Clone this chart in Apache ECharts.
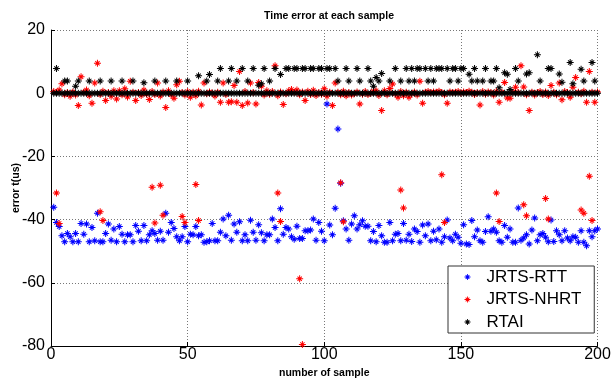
<!DOCTYPE html>
<html><head><meta charset="utf-8">
<script src="https://cdn.jsdelivr.net/npm/echarts@6/dist/echarts.min.js"></script>
<style>html,body{margin:0;padding:0;background:#fff}#c{width:611px;height:385px}</style>
</head><body><div id="c"></div>
<script>
const chartTitle = 'Time error at each sample';
const xName = 'number of sample';
const yName = 'error t(us)';
const seriesNames = ['JRTS-RTT', 'JRTS-NHRT', 'RTAI'];
const xMin = 0, xMax = 200, xStep = 50;
const yMin = -80, yMax = 20, yStep = 20;

// JRTS-RTT: one value per sample 1..200
const rttValues = [
  -36.1,-40.9,-42.2,-45.1,-47.0,-44.4,-45.4,-47.0,-44.4,-47.0,-41.2,-44.6,-41.4,-47.0,-42.5,-46.7,-38.0,-47.0,-47.0,-44.4,
  -41.4,-46.5,-43.0,-47.0,-42.2,-44.6,-47.0,-44.8,-44.8,-47.0,-41.9,-43.7,-46.7,-41.9,-46.7,-44.8,-43.5,-44.4,-46.5,-43.7,
  -46.5,-38.0,-44.0,-40.9,-42.8,-45.4,-46.7,-45.4,-42.2,-47.0,-44.6,-44.8,-42.2,-45.1,-44.8,-47.2,-47.0,-46.7,-41.2,-46.7,
  -46.7,-44.0,-39.8,-45.1,-38.6,-46.5,-41.4,-44.0,-40.7,-46.7,-44.8,-46.7,-40.2,-44.0,-46.5,-41.6,-44.2,-46.7,-44.8,-44.8,
  -39.8,-42.5,-46.7,-36.6,-44.6,-42.5,-43.0,-45.4,-46.2,-42.1,-46.0,-46.0,-43.5,-43.5,-43.3,-39.8,-46.5,-40.9,-43.7,-46.7,
  -3.4,-41.7,-44.8,-36.4,-11.3,-28.5,-40.4,-43.0,-46.5,-41.4,-38.8,-43.0,-41.6,-40.4,-42.1,-42.1,-46.7,-43.8,-47.0,-41.9,
  -45.1,-47.2,-47.2,-40.9,-46.7,-44.6,-44.4,-46.7,-41.2,-46.5,-44.6,-46.9,-43.0,-43.8,-47.2,-41.7,-45.1,-41.4,-46.7,-43.7,
  -46.4,-43.0,-47.2,-45.4,-40.1,-45.8,-46.7,-44.6,-45.6,-47.5,-41.6,-47.7,-47.9,-40.3,-45.4,-43.3,-46.7,-47.2,-43.8,-39.1,
  -43.7,-43.0,-44.0,-46.7,-47.2,-41.9,-45.6,-43.0,-47.2,-47.2,-36.3,-46.5,-45.8,-44.8,-47.7,-43.3,-39.5,-46.7,-44.8,-44.4,
  -45.6,-47.0,-40.1,-46.9,-43.5,-44.8,-46.7,-43.5,-45.8,-46.7,-45.4,-45.6,-47.2,-43.5,-47.2,-48.3,-43.5,-45.4,-43.5,-43.0
];

// JRTS-NHRT: band value per sample 1..200
const nhrtValues = [
  0.5,0.3,1.0,3.0,-0.5,0.2,-1.0,0.4,-0.6,-3.9,5.2,0.3,1.0,-0.8,-3.2,3.2,9.5,-0.4,0.6,-2.3,
  0.2,-1.0,0.8,-1.8,0.8,-0.5,1.4,-1.2,3.8,0.3,-2.3,0.2,-0.7,1.0,-0.3,-2.0,0.5,-0.4,3.2,-0.9,
  0.4,-4.5,0.8,-0.5,-1.6,2.7,3.8,0.2,-0.6,0.5,-1.3,0.3,-0.8,0.6,-3.7,3.2,-0.2,0.4,0.1,-0.9,
  0.3,-2.9,3.2,-0.4,-2.9,-2.7,2.4,-2.9,6.9,-3.9,0.5,-3.1,3.2,0.2,-3.4,3.4,2.2,-0.6,0.8,-0.3,
  0.5,8.7,-0.8,0.4,-3.6,-0.2,0.8,1.2,0.3,1.0,-0.5,0.4,-2.3,0.6,-0.4,0.9,-0.7,0.2,-0.3,1.4,
  -1.0,0.3,-3.9,3.2,0.3,-0.5,0.6,-0.8,0.2,-0.6,-0.2,0.4,-3.4,-0.3,0.5,-0.4,0.0,0.6,0.8,-0.7,
  -5.5,0.8,-0.5,1.5,2.9,-0.2,-1.3,0.5,-0.8,0.3,-1.3,-0.2,0.4,-0.6,3.8,-3.2,0.3,0.5,0.2,0.4,
  0.3,0.6,0.2,-0.5,-3.2,0.4,0.2,0.3,0.5,0.1,0.4,0.2,0.6,0.3,-0.4,0.2,-3.7,0.5,-0.3,0.4,
  0.2,-0.6,0.5,-2.9,0.3,3.4,-1.5,-1.6,0.4,1.9,0.2,8.7,2.0,-0.5,-5.5,0.3,-0.6,0.2,0.5,-0.4,
  0.4,-0.7,2.4,0.3,-0.5,3.2,-2.1,0.5,0.2,-1.3,1.9,5.0,0.3,-0.2,0.6,-2.9,6.9,0.3,-2.9,0.4
];
// JRTS-NHRT: large negative excursions
const nhrtOutSamples = [2,3,18,19,37,38,40,41,48,49,53,54,83,84,91,92,106,107,128,129,143,144,163,164,173,174,181,182,194,195,197,198];
const nhrtOutValues  = [-31.6,-41.2,-37.5,-40.3,-29.8,-41.1,-29.1,-38.6,-39.0,-40.9,-28.9,-40.3,-31.6,-40.6,-58.7,-79.5,-28.3,-40.7,-30.6,-36.3,-25.8,-40.9,-31.6,-40.6,-35.3,-38.8,-33.3,-39.8,-37.0,-38.0,-26.3,-40.3];

// RTAI: base value per sample 1..200
const rtaiValues = [
  0,0,0,0,0,0,0,0,0,0,0,0,0,0,0,0,0,0,0,0,
  0,0,0,0,0,0,0,0,0,0,0,0,0,0,0,0,0,0,0,0,
  0,0,0,0,0,0,0,0,0,0,0,0,0,0,0,0,0,0,0,0,
  0,0,0,0,0,0,0,0,0,0,0,0,0,0,0,0,0,0,0,0,
  0,0,0,0,0,0,0,0,0,0,0,0,0,0,0,0,0,0,0,0,
  0,0,0,0,0,0,0,0,0,0,0,0,0,0,0,0,0,0,0,0,
  0,0,0,0,0,0,0,0,0,0,0,0,0,0,0,0,0,0,0,0,
  0,0,0,0,0,0,0,0,0,0,0,0,0,0,0,0,0,0,0,0,
  0,0,0,0,0,0,0,0,0,0,0,0,0,0,0,0,0,0,0,0,
  0,0,0,0,0,0,0,0,0,0,0,0,0,0,0,0,0,0,0,0
];
// RTAI: additional quantised positive errors
const rtaiHighSamples = [2,5,6,9,10,14,18,22,26,30,34,38,42,46,50,54,57,58,61,62,65,66,68,70,72,74,76,77,78,80,82,84,
  86,87,89,90,92,93,95,96,98,99,101,102,104,105,108,109,112,113,116,117,118,119,120,121,124,126,128,130,131,132,133,134,135,
  137,138,139,140,141,142,143,145,146,147,148,149,150,151,153,154,155,156,158,159,161,162,163,164,166,167,168,170,171,174,175,
  178,179,182,183,186,187,190,191,194,195,198,199];
const rtaiHighValues = [7.8,3.9,3.9,2.2,3.9,3.9,3.9,3.9,3.9,3.9,3.3,3.9,3.9,3.9,3.9,5.5,3.9,5.9,3.9,7.8,3.9,7.8,3.9,7.8,3.9,7.8,2.5,3.0,7.8,3.9,7.8,5.9,
  7.8,7.8,7.8,7.8,7.8,7.8,7.8,7.8,7.8,7.8,7.8,7.8,7.8,3.9,7.8,3.9,7.8,3.9,7.8,3.9,2.2,5.0,3.9,6.2,3.9,7.8,3.9,7.8,3.9,7.8,3.9,7.8,7.8,
  7.8,3.9,7.8,3.9,7.8,7.8,7.8,7.8,3.9,7.8,7.8,3.9,7.8,7.8,6.0,3.9,7.8,3.9,3.9,7.8,3.9,3.9,7.8,1.7,6.5,6.0,1.2,7.8,3.9,6.1,6.5,
  12.2,3.9,7.8,7.8,6.1,3.5,9.7,3.0,7.6,3.9,9.7,3.9];

const seriesColors = ['#0000ff', '#ff0000', '#000000'];
const STAR = 'path://M6,0L8,0L8,14L6,14Z M0,6L14,6L14,8L0,8Z M3.4,2L12,10.6L10.6,12L2,3.4Z M10.6,2L12,3.4L3.4,12L2,10.6Z';
const FONT = "'Liberation Sans', Arial, sans-serif";

const sampleNo = rttValues.map((_, i) => i + 1);
const pairs = (xs, ys) => xs.map((x, i) => [x, ys[i]]);

const chart = echarts.init(document.getElementById('c'), null, {renderer: 'canvas'});
chart.setOption({
  animation: false,
  backgroundColor: '#fff',
  title: {
    text: chartTitle, left: 324, top: 6, textAlign: 'center',
    textStyle: {fontFamily: FONT, fontSize: 10.5, fontWeight: 'bold', color: '#000'}
  },
  grid: {left: 51, right: 13.5, top: 30, bottom: 39, containLabel: false, outerBoundsMode: 'none'},
  xAxis: {
    type: 'value', min: xMin, max: xMax, interval: xStep,
    name: xName, nameLocation: 'middle', nameGap: 22, nameMoveOverlap: false,
    nameTextStyle: {fontFamily: FONT, fontSize: 10.5, fontWeight: 'bold', color: '#000'},
    axisLine: {show: true, onZero: false, lineStyle: {color: '#000', width: 1}},
    axisTick: {show: true, inside: true, length: 4, lineStyle: {color: '#000'}},
    axisLabel: {fontFamily: FONT, fontSize: 16, color: '#000', margin: 1},
    splitLine: {show: true, lineStyle: {color: '#777', type: [1, 2], width: 1}}
  },
  yAxis: {
    type: 'value', min: yMin, max: yMax, interval: yStep,
    name: yName, nameLocation: 'middle', nameGap: 29, nameRotate: 90, nameMoveOverlap: false,
    nameTextStyle: {fontFamily: FONT, fontSize: 10.5, fontWeight: 'bold', color: '#000'},
    axisLine: {show: true, onZero: false, lineStyle: {color: '#000', width: 1}},
    axisTick: {show: true, inside: true, length: 4, lineStyle: {color: '#000'}},
    axisLabel: {fontFamily: FONT, fontSize: 16, color: '#000', margin: 6},
    splitLine: {show: true, lineStyle: {color: '#777', type: [1, 2], width: 1}}
  },
  legend: {
    data: seriesNames, orient: 'vertical', left: 448, top: 266,
    padding: [2, 13, 2, 16.5], itemGap: 4.5, itemWidth: 6, itemHeight: 6,
    borderColor: '#333', borderWidth: 1, backgroundColor: '#fff',
    textStyle: {fontFamily: FONT, fontSize: 17, color: '#000', padding: [0, 0, 0, 11], lineHeight: 18}
  },
  series: [
    {name: seriesNames[0], type: 'scatter', symbol: STAR, symbolSize: 7,
     itemStyle: {color: seriesColors[0], opacity: 1}, data: pairs(sampleNo, rttValues)},
    {name: seriesNames[1], type: 'scatter', symbol: STAR, symbolSize: 7,
     itemStyle: {color: seriesColors[1], opacity: 1},
     data: pairs(sampleNo, nhrtValues).concat(pairs(nhrtOutSamples, nhrtOutValues))},
    {name: seriesNames[2], type: 'scatter', symbol: STAR, symbolSize: 7,
     itemStyle: {color: seriesColors[2], opacity: 1},
     data: pairs(sampleNo, rtaiValues).concat(pairs(rtaiHighSamples, rtaiHighValues))}
  ]
});
</script></body></html>
